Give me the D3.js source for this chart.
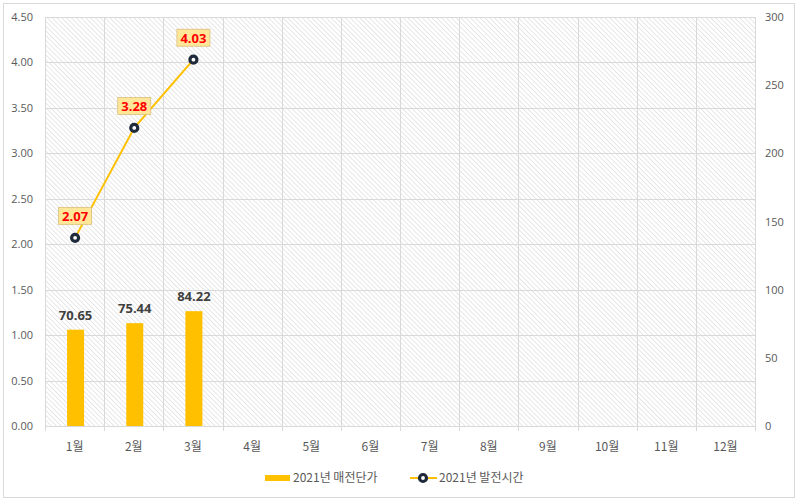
<!DOCTYPE html>
<html>
<head>
<meta charset="utf-8">
<script src="https://cdn.jsdelivr.net/npm/d3@7"></script>
<style>
  body { margin: 0; background: #fff; }
  text { font-family: "Malgun Gothic", "Noto Sans CJK KR", "Noto Sans", sans-serif; }
</style>
</head>
<body>
<div id="chart"></div>
<script>
// data
var months = ["1월","2월","3월","4월","5월","6월","7월","8월","9월","10월","11월","12월"];
var priceVals = [70.65, 75.44, 84.22];   // 2021년 매전단가 (right axis)
var hourVals = [2.07, 3.28, 4.03];       // 2021년 발전시간 (left axis)
var leftTicks = [0, 0.5, 1, 1.5, 2, 2.5, 3, 3.5, 4, 4.5];
var rightTicks = [0, 50, 100, 150, 200, 250, 300];
var seriesNames = ["2021년 매전단가", "2021년 발전시간"];

var W = 799, H = 504;
var pLeft = 45, pRight = 755, pTop = 17, pBottom = 426;

var svg = d3.select("#chart").append("svg").attr("width", W).attr("height", H);

// hatch pattern
var defs = svg.append("defs");
var pat = defs.append("pattern").attr("id","hatch").attr("patternUnits","userSpaceOnUse")
  .attr("width", 3.4).attr("height", 3.4).attr("patternTransform","rotate(-45)");
pat.append("rect").attr("width",3.4).attr("height",3.4).attr("fill","#fff");
pat.append("line").attr("x1",0).attr("y1",0).attr("x2",0).attr("y2",3.4)
  .attr("stroke","#d4d4d4").attr("stroke-width",1.1);

// outer border
svg.append("rect").attr("x",3.5).attr("y",3.5).attr("width",791).attr("height",494)
  .attr("fill","#fff").attr("stroke","#d9d9d9");

var x = d3.scaleBand().domain(months).range([pLeft, pRight]);
var yL = d3.scaleLinear().domain([0, 4.5]).range([pBottom, pTop]);
var yR = d3.scaleLinear().domain([0, 300]).range([pBottom, pTop]);

svg.append("rect").attr("x",pLeft).attr("y",pTop).attr("width",pRight-pLeft).attr("height",pBottom-pTop)
  .attr("fill","url(#hatch)");

// grid
svg.append("g").selectAll("line").data(leftTicks).join("line")
  .attr("x1",pLeft).attr("x2",pRight)
  .attr("y1",d=>Math.round(yL(d))+0.5).attr("y2",d=>Math.round(yL(d))+0.5)
  .attr("stroke","#d9d9d9");
svg.append("g").selectAll("line").data(months.concat(["end"])).join("line")
  .attr("x1",(d,i)=>Math.round(pLeft + i*x.step())+0.5).attr("x2",(d,i)=>Math.round(pLeft + i*x.step())+0.5)
  .attr("y1",pTop).attr("y2",pBottom+5)
  .attr("stroke","#d9d9d9");

// left axis
var axL = svg.append("g").attr("transform","translate("+(pLeft-12)+",0)")
  .call(d3.axisLeft(yL).tickValues(leftTicks).tickFormat(d3.format(".2f")).tickSize(0));
axL.select(".domain").remove();
axL.selectAll("text").attr("fill","#595959").style("font-size","11px").style("font-family","'Open Sans', sans-serif").attr("x",0);

// right axis
var axR = svg.append("g").attr("transform","translate("+(pRight+10)+",0)")
  .call(d3.axisRight(yR).tickValues(rightTicks).tickSize(0));
axR.select(".domain").remove();
axR.selectAll("text").attr("fill","#595959").style("font-size","11px").style("font-family","'Open Sans', sans-serif").attr("x",0);

// x labels
svg.append("g").selectAll("text").data(months).join("text")
  .attr("x",d=>x(d)+x.bandwidth()/2).attr("y",451)
  .attr("text-anchor","middle").attr("fill","#595959").style("font-size","12px")
  .text(d=>d);

// bars
var bw = 17;
svg.append("g").selectAll("rect").data(priceVals).join("rect")
  .attr("x",(d,i)=>x(months[i])+x.bandwidth()/2-bw/2+1)
  .attr("y",d=>yR(d)).attr("width",bw).attr("height",d=>yR(0)-yR(d))
  .attr("fill","#FFC000");
svg.append("g").selectAll("text").data(priceVals).join("text")
  .attr("x",(d,i)=>x(months[i])+x.bandwidth()/2+1).attr("y",d=>yR(d)-10)
  .attr("text-anchor","middle").attr("fill","#404040").style("font-size","13px").style("font-weight","bold")
  .style("font-family","'Open Sans', sans-serif")
  .text(d=>d.toFixed(2));

// line
var cx = (d,i)=>x(months[i])+x.bandwidth()/2+0.5;
svg.append("path").datum(hourVals)
  .attr("d", d3.line().x(cx).y(d=>yL(d)))
  .attr("fill","none").attr("stroke","#FFC000").attr("stroke-width",2);
svg.append("g").selectAll("circle").data(hourVals).join("circle")
  .attr("cx",cx).attr("cy",d=>yL(d)).attr("r",3.5)
  .attr("fill","#fff").attr("stroke","#1f2a3a").attr("stroke-width",3.2);

// line labels
var lab = svg.append("g").selectAll("g").data(hourVals).join("g")
  .attr("transform",(d,i)=>"translate("+cx(d,i)+","+(yL(d)-22)+")");
lab.append("rect").attr("x",-16.5).attr("y",-8.5).attr("width",33).attr("height",17)
  .attr("fill","#FFE699").attr("stroke","#d9bf7a").attr("stroke-width",0.8);
lab.append("text").attr("text-anchor","middle").attr("y",4.8)
  .attr("fill","#FF0000").style("font-size","13px").style("font-weight","bold")
  .style("font-family","'Open Sans', sans-serif")
  .text(d=>d.toFixed(2));

// legend
var lg = svg.append("g");
lg.append("rect").attr("x",265).attr("y",475).attr("width",25).attr("height",6).attr("fill","#FFC000");
lg.append("text").attr("x",293).attr("y",482).attr("fill","#595959").style("font-size","12px").text(seriesNames[0]);
lg.append("line").attr("x1",410).attr("x2",437).attr("y1",478).attr("y2",478).attr("stroke","#FFC000").attr("stroke-width",2);
lg.append("circle").attr("cx",423).attr("cy",478).attr("r",3.5).attr("fill","#fff").attr("stroke","#1f2a3a").attr("stroke-width",3.2);
lg.append("text").attr("x",439).attr("y",482).attr("fill","#595959").style("font-size","12px").text(seriesNames[1]);
</script>
</body>
</html>
